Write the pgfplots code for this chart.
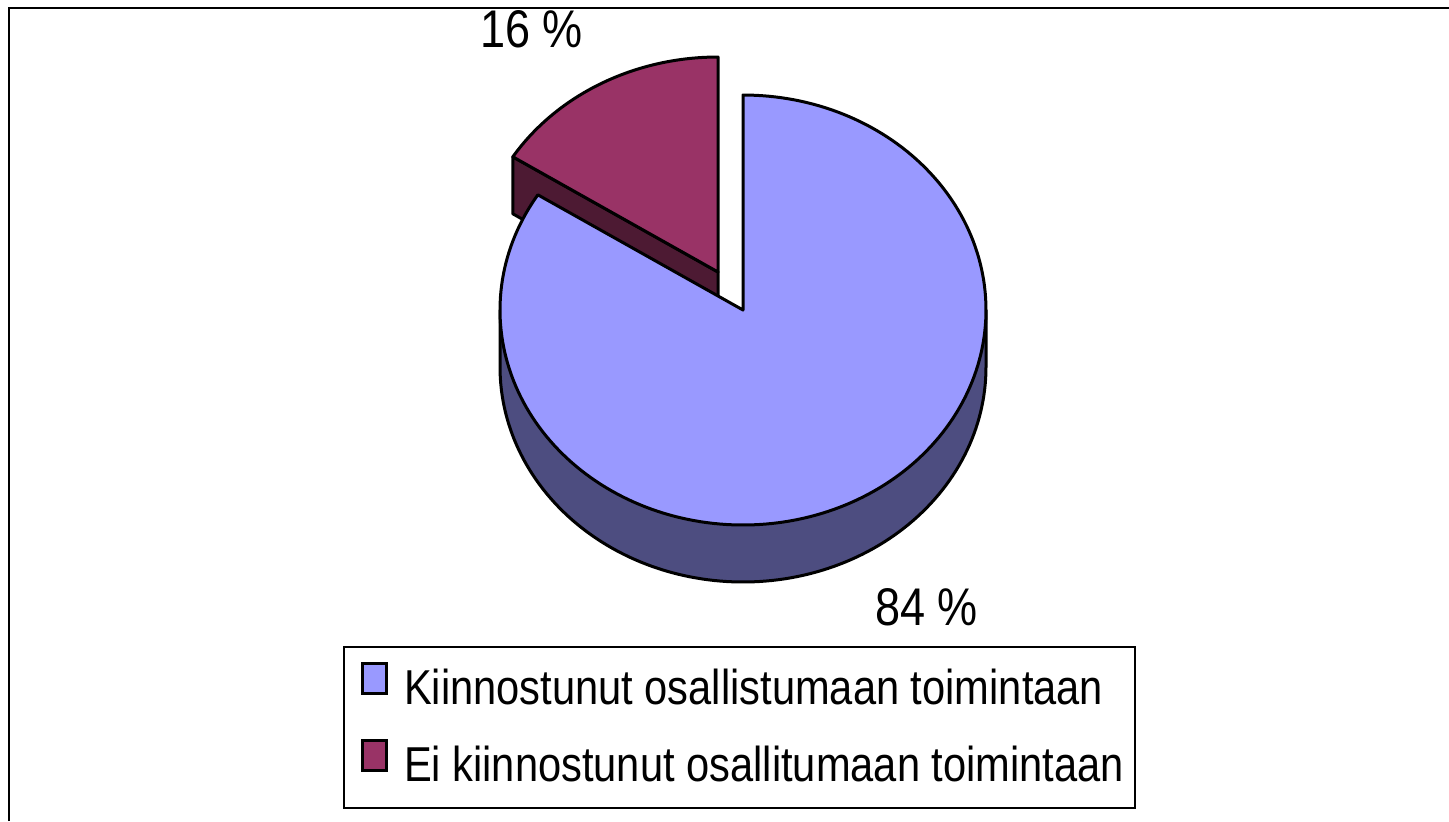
\documentclass[border=0pt]{standalone}
\usepackage{fontspec}
\setmainfont{Liberation Sans}
\newfontfamily\chartfont[FakeStretch=0.85]{Liberation Sans}
\usepackage{pgfplots}
\usepackage{pgfplotstable}
\pgfplotsset{compat=1.18}
\definecolor{bigtop}{RGB}{153,153,255}
\definecolor{bigside}{RGB}{77,77,128}
\definecolor{smalltop}{RGB}{153,51,102}
\definecolor{smallside}{RGB}{77,26,51}

\pgfplotstableread{
share value
Kiinnostunut 84
Ei 16
}\piedata

\begin{document}
\begin{tikzpicture}
\pgfplotstablegetelem{0}{value}\of\piedata \let\vbig\pgfplotsretval
\pgfplotstablegetelem{1}{value}\of\piedata \let\vsmall\pgfplotsretval
\pgfmathsetmacro\aS{90+3.6*\vsmall}
\pgfmathsetmacro\aE{\aS+3.6*\vbig}
\pgfmathsetmacro\pxa{718+243*cos(\aS)}
\pgfmathsetmacro\pya{272-215*sin(\aS)}
\pgfmathsetmacro\pyb{\pya+57}
\begin{axis}[
  hide axis, scale only axis,
  width=724.5pt, height=410.5pt,
  xmin=0, xmax=1449, ymin=0, ymax=821,
  y dir=reverse, clip=true,
  legend image code/.code={\path (-3pt,0pt); \draw[#1, line width=1.5pt] (0pt,-0.5pt) rectangle (12pt,14.5pt); \path (20.5pt,0pt);},
  legend style={at={(axis cs:343,646)}, anchor=north west, draw=black, line width=1pt, fill=white,
    inner xsep=5.5pt, inner ysep=7.5pt, row sep=11pt, column sep=0pt,
    font=\chartfont\fontsize{24.5pt}{29pt}\selectfont, nodes={inner sep=0pt}},
  legend cell align=left,
]
% frame
\addplot[black, line width=1pt, forget plot] coordinates {(9,821) (9,8) (1449,8)};
% small slice: radial side face
\edef\tmp{\noexpand\addplot[fill=smallside, draw=black, line width=1.5pt, line join=round, forget plot] coordinates {(718,272) (\pxa,\pya) (\pxa,\pyb) (718,329)} -- cycle;}\tmp
% small slice: top face
\addplot[fill=smalltop, draw=black, line width=1.5pt, line join=round, forget plot, domain=90:\aS, samples=60]
  ({718+243*cos(x)},{272-215*sin(x)}) -- (718,272) -- cycle;
% big slice: outer side (front half)
\addplot[fill=bigside, draw=black, line width=1.5pt, line join=round, forget plot, domain=180:360, samples=120]
  ({743+243*cos(x)},{367-215*sin(x)}) -- (986,310) -- (500,310) -- cycle;
% big slice: top face
\addplot[fill=bigtop, draw=black, line width=1.5pt, line join=round, forget plot, domain=\aS:\aE, samples=200]
  ({743+243*cos(x)},{310-215*sin(x)}) -- (743,310) -- cycle;
% labels
\node[anchor=base west, inner sep=0pt, font=\chartfont\fontsize{26.5pt}{30pt}\selectfont] at (480,47) {16 \%};
\node[anchor=base west, inner sep=0pt, font=\chartfont\fontsize{26.5pt}{30pt}\selectfont] at (875,625) {84 \%};
% legend
\addlegendimage{fill=bigtop, draw=black}
\addlegendentry[text height=18pt, text depth=6pt]{Kiinnostunut osallistumaan toimintaan}
\addlegendimage{fill=smalltop, draw=black}
\addlegendentry[text height=18pt, text depth=6pt]{Ei kiinnostunut osallitumaan toimintaan}
\end{axis}
\pgfresetboundingbox
\path[use as bounding box] (current axis.south west) rectangle (current axis.north east);
\end{tikzpicture}
\end{document}
